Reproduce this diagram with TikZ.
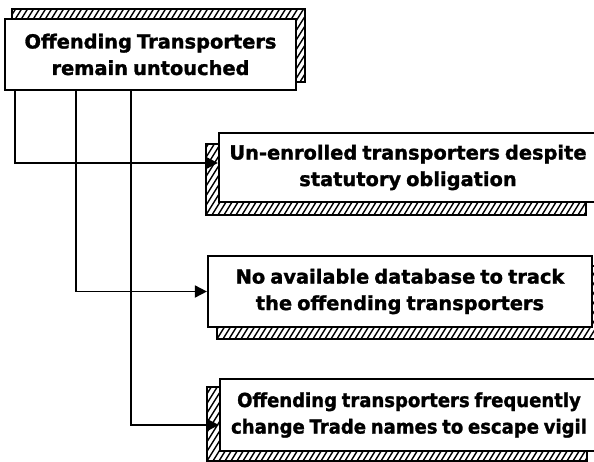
\documentclass[tikz,border=0pt]{standalone}
\usepackage{fontspec}
\setmainfont{DejaVu Sans}[BoldFeatures={FakeBold=1.5,WordSpace=0.75}]
\usetikzlibrary{arrows.meta,backgrounds}
\newcommand\narrowlines[1]{\scalebox{0.93}[1]{\begin{tabular}{@{}c@{}}#1\end{tabular}}}
\begin{document}
\begin{tikzpicture}[x=1pt,y=-1pt,
  boxnode/.style={draw=black,line width=2.2pt,fill=white,align=center,inner sep=0pt,
    font=\fontsize{19.4}{26.5}\selectfont\bfseries},
  shadowhatch/.style={draw=black,line width=1.3pt,
    path picture={
      \foreach \i in {-22,...,75}
        \draw[line width=1.4pt] ([xshift=\i*6pt]path picture bounding box.south west) -- ++(58:110pt);
    }},
  conn/.style={draw=black,line width=1.8pt,-{Triangle[length=12pt,width=12pt]}}]
\useasboundingbox (0,0) rectangle (594,461);
\node[boxnode,minimum width=291pt,minimum height=71pt] (top) at (150.5,54.5)
  {Offending Transporters\\remain untouched};
\node[boxnode,minimum width=378pt,minimum height=69pt] (b1) at (408,167.5)
  {Un-enrolled transporters despite\\statutory obligation};
\node[boxnode,minimum width=384pt,minimum height=71pt] (b2) at (400,291.5)
  {No available database to track\\the offending transporters};
\node[boxnode,minimum width=378pt,minimum height=72pt] (b3) at (409,415)
  {\narrowlines{Offending transporters frequently\\change Trade names to escape vigil}};
\begin{scope}[on background layer]
  \path[shadowhatch] ([shift={(8,-9)}]top.south west) rectangle ([shift={(8,-9)}]top.north east);
  \path[shadowhatch] ([shift={(-12,12)}]b1.south west) rectangle ([shift={(-12,12)}]b1.north east);
  \path[shadowhatch] ([shift={(10,11)}]b2.south west) rectangle ([shift={(10,11)}]b2.north east);
  \path[shadowhatch] ([shift={(-12,9)}]b3.south west) rectangle ([shift={(-12,9)}]b3.north east);
\end{scope}
\draw[conn] ([xshift=11pt]top.south west) |- ([yshift=4.5pt]b1.west);
\draw[conn] ([xshift=72pt]top.south west) |- (b2.west);
\draw[conn] ([xshift=127pt]top.south west) |- ([yshift=-10pt]b3.west);
\end{tikzpicture}
\end{document}
